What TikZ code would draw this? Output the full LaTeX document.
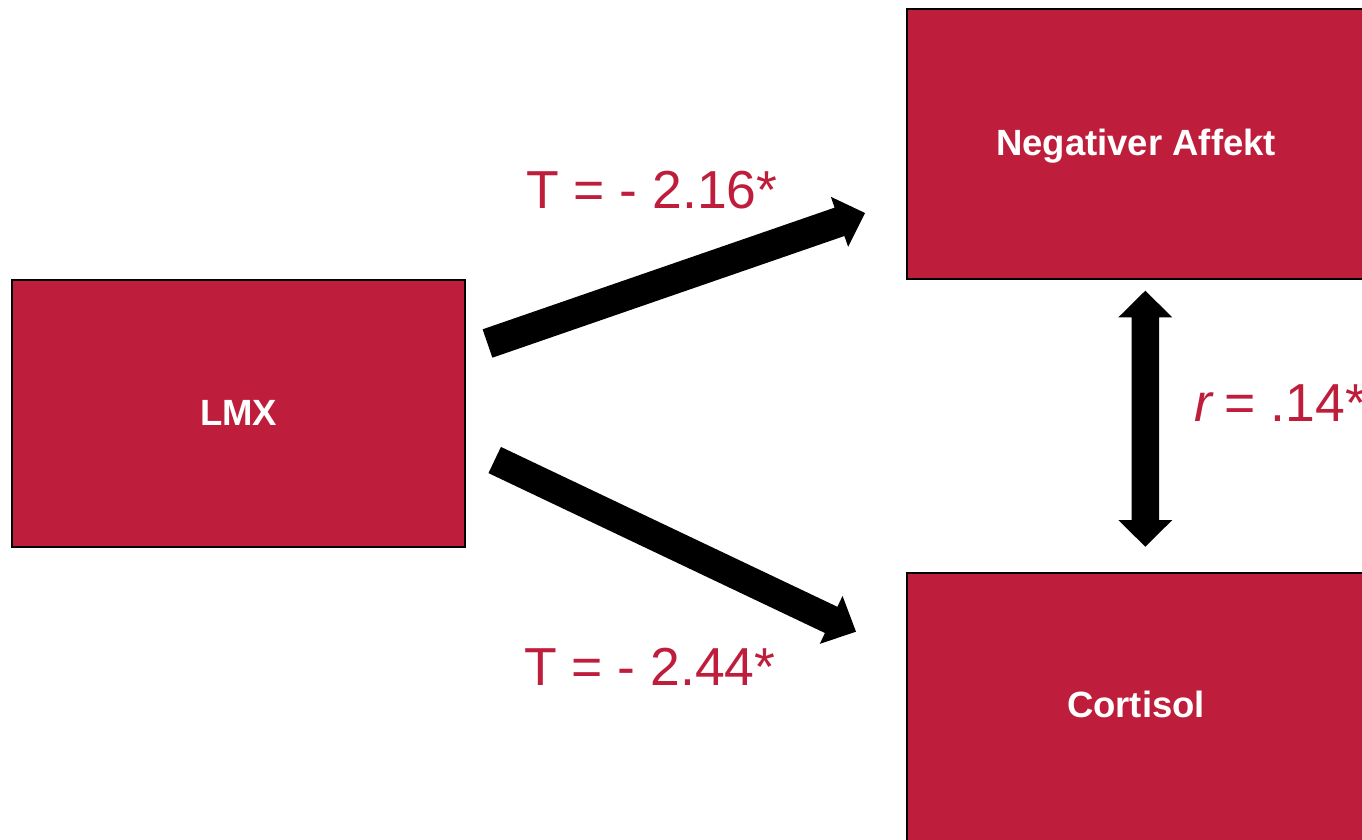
\documentclass[tikz,border=0pt]{standalone}
\usepackage{fontspec}
\setmainfont{Liberation Sans}
\usetikzlibrary{calc}
\definecolor{crimson}{RGB}{190,30,60}
\newcommand\blkarrow[5]{%
  \path ($(#2)!#5!(#1)$) coordinate (bh);
  \fill[arrowfill] ($(#1)!#3!90:(#2)$) -- ($(bh)!#3!90:(#2)$) -- ($(bh)!#4!90:(#2)$) -- (#2)
    -- ($(bh)!#4!-90:(#2)$) -- ($(bh)!#3!-90:(#2)$) -- ($(#1)!#3!-90:(#2)$) -- cycle;}
\newcommand\dblarrow[5]{%
  \path ($(#1)!#5!(#2)$) coordinate (bha) ($(#2)!#5!(#1)$) coordinate (bhb);
  \fill[arrowfill] (#1) -- ($(bha)!#4!90:(#2)$) -- ($(bha)!#3!90:(#2)$) -- ($(bhb)!#3!90:(#2)$)
    -- ($(bhb)!#4!90:(#2)$) -- (#2) -- ($(bhb)!#4!-90:(#2)$) -- ($(bhb)!#3!-90:(#2)$)
    -- ($(bha)!#3!-90:(#2)$) -- ($(bha)!#4!-90:(#2)$) -- cycle;}
\begin{document}
\begin{tikzpicture}[x=1pt,y=-1pt,
  box/.style={draw=black, line width=1.5pt, fill=crimson, inner sep=0pt, anchor=north west},
  boxtext/.style={text=white, font=\fontsize{36.5}{40}\selectfont\bfseries, anchor=base, inner sep=0pt},
  coef/.style={text=crimson, font=\fontsize{53.5}{60}\selectfont, anchor=base west, inner sep=0pt},
  arrowfill/.style={fill=black}]
\useasboundingbox (0,0) rectangle (1362,839);
% boxes
\node[box, minimum width=453pt, minimum height=267pt] (lmx) at (11,279) {};
\node[box, minimum width=460pt, minimum height=270pt] (na) at (906,8) {};
\node[box, minimum width=460pt, minimum height=270pt] (co) at (906,572) {};
% box texts
\node[boxtext] (lmxt) at (238.7,425) {LMX};
\node[boxtext] (nat) at (1136,155.7) {Negativer Affekt};
\node[boxtext] (cot) at (1136,717.7) {Cortisol};
% arrow end points
\coordinate (a1s) at (487.5,343.5); \coordinate (a1e) at (865,213);
\coordinate (a2s) at (494.7,460);   \coordinate (a2e) at (856,631.7);
\coordinate (a3s) at (1145.3,290.7); \coordinate (a3e) at (1145.3,546.7);
\blkarrow{a1s}{a1e}{15pt}{26.5pt}{27pt}
\blkarrow{a2s}{a2e}{14.5pt}{26.5pt}{27.5pt}
\dblarrow{a3s}{a3e}{13.7pt}{27pt}{26.7pt}
% coefficients
\node[coef] (c1) at (526,208.3) {T = - 2.16*};
\node[coef] (c2) at (524,685) {T = - 2.44*};
\node[coef] (c3) at (1194,421.7) {\textit{r}\kern-4pt{} = .14*};
\end{tikzpicture}
\end{document}
